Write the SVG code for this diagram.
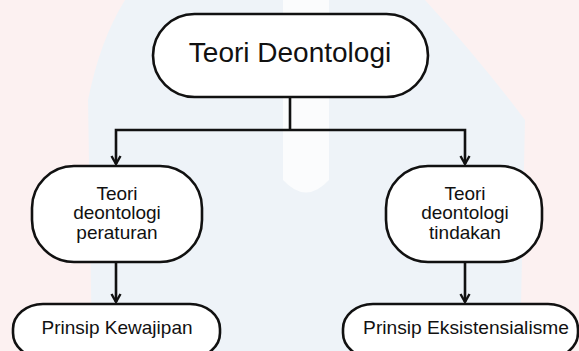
<svg xmlns="http://www.w3.org/2000/svg" width="579" height="351" viewBox="0 0 579 351">
<style>
.box{fill:#ffffff;stroke:#111111;stroke-width:2.6}
.lbl{font-family:"Liberation Sans",Arial,sans-serif;fill:#111111;text-anchor:middle}
.con{fill:none;stroke:#111111;stroke-width:2.6}
</style>
<defs>
<marker id="arr" viewBox="0 0 12 12" refX="10" refY="6" markerWidth="12" markerHeight="12" markerUnits="userSpaceOnUse" orient="auto-start-reverse">
<path d="M2,1.5 L10,6 L2,10.5" fill="none" stroke="#111111" stroke-width="2.4" stroke-linejoin="miter"/>
</marker>
</defs>
<g id="background">
<rect x="0" y="0" width="579" height="351" fill="#fcf1f1"/>
<path d="M125,0 L425,0 Q480,60 525,120 L520,351 L92,351 L88,100 Q100,40 125,0 Z" fill="#eef3f8"/>
<path d="M283,0 L329,0 L329,180 Q306,205 283,180 Z" fill="#fbfcfd"/>
</g>
<g id="connectors">
<line class="con" x1="290" y1="97" x2="290" y2="130"/>
<polyline class="con" points="116,164 116,130 465,130 465,164" marker-start="url(#arr)" marker-end="url(#arr)"/>
<line class="con" x1="116" y1="262" x2="116" y2="302" marker-end="url(#arr)"/>
<line class="con" x1="465" y1="262" x2="465" y2="302" marker-end="url(#arr)"/>
</g>
<g id="node-teori-deontologi">
<rect class="box" x="153" y="14" width="275" height="83" rx="41.5" ry="41.5"/>
<text class="lbl" x="290" y="62" font-size="28">Teori Deontologi</text>
</g>
<g id="node-peraturan">
<rect class="box" x="32" y="166" width="170" height="96" rx="42" ry="42"/>
<text class="lbl" x="117" y="199.5" font-size="19">Teori</text>
<text class="lbl" x="117" y="219" font-size="19">deontologi</text>
<text class="lbl" x="117" y="238.5" font-size="19">peraturan</text>
</g>
<g id="node-tindakan">
<rect class="box" x="386" y="166" width="156" height="96" rx="42" ry="42"/>
<text class="lbl" x="465" y="199.5" font-size="19">Teori</text>
<text class="lbl" x="465" y="219" font-size="19">deontologi</text>
<text class="lbl" x="465" y="238.5" font-size="19">tindakan</text>
</g>
<g id="node-kewajipan">
<rect class="box" x="13" y="304" width="207" height="54" rx="30" ry="25"/>
<text class="lbl" x="117" y="333.5" font-size="19">Prinsip Kewajipan</text>
</g>
<g id="node-eksistensialisme">
<rect class="box" x="343" y="304" width="235" height="54" rx="30" ry="25"/>
<text class="lbl" x="466" y="333.5" font-size="19.2">Prinsip Eksistensialisme</text>
</g>
</svg>
